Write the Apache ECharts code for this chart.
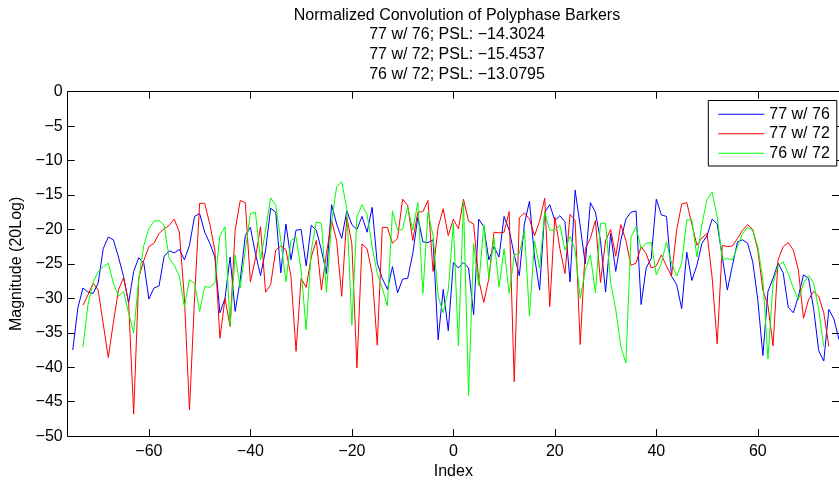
<!DOCTYPE html>
<html>
<head>
<meta charset="utf-8">
<script src="https://cdn.jsdelivr.net/npm/echarts@6/dist/echarts.min.js"></script>
<style>
html,body{margin:0;padding:0;background:#fff;}
#c{width:839px;height:485px;}
</style>
</head>
<body>
<div id="c"></div>
<script>
// ---- data ----
const titleLines = [
  'Normalized Convolution of Polyphase Barkers',
  '77 w/ 76; PSL: \u221214.3024',
  '77 w/ 72; PSL: \u221215.4537',
  '76 w/ 72; PSL: \u221213.0795'
];
const seriesNames = ['77 w/ 76', '77 w/ 72', '76 w/ 72'];
const xTickValues = [-60, -40, -20, 0, 20, 40, 60];

// 77 w/ 76 : indices -75 .. 76
const start7776 = -75;
const vals7776 = [
  -37.5,-31.4,-28.5,-29.1,-29.3,-27.8,-22.8,-21.1,-21.5,-24.0,
  -26.8,-30.7,-26.1,-24.1,-24.9,-30.1,-28.5,-28.2,-23.9,-23.1,
  -23.4,-22.9,-24.4,-22.3,-18.1,-17.7,-20.4,-22.0,-24.0,-32.1,
  -30.0,-24.0,-31.9,-27.3,-20.9,-19.7,-23.5,-26.7,-23.0,-16.9,
  -17.5,-26.3,-19.2,-24.4,-20.1,-20.0,-25.3,-19.4,-20.1,-23.0,
  -26.4,-16.4,-19.2,-21.3,-17.3,-19.3,-20.0,-18.1,-20.4,-16.8,
  -24.9,-27.1,-28.7,-25.4,-29.2,-27.2,-27.1,-23.5,-18.2,-21.8,
  -21.9,-21.5,-36.0,-28.7,-34.7,-24.8,-25.6,-24.8,-25.6,-32.4,
  -18.5,-19.6,-24.4,-22.5,-24.0,-18.1,-20.1,-23.7,-26.7,-19.2,
  -15.9,-24.0,-28.8,-17.5,-16.4,-18.7,-18.0,-18.9,-27.6,-14.3,
  -19.5,-25.0,-16.1,-17.5,-21.6,-29.1,-20.6,-26.1,-21.6,-18.5,
  -17.5,-17.3,-30.9,-25.6,-24.2,-15.6,-17.9,-18.1,-26.8,-28.0,
  -31.5,-23.3,-27.4,-25.2,-22.0,-20.9,-18.5,-19.2,-24.0,-28.8,
  -25.2,-21.8,-21.5,-22.0,-24.7,-30.2,-38.3,-29.0,-27.1,-24.9,
  -26.3,-31.3,-32.1,-29.7,-26.6,-27.1,-31.5,-37.6,-39.1,-31.6,
  -33.0,-36.0
];

// 77 w/ 72 : indices -73 .. 74
const start7772 = -73;
const vals7772 = [
  -31.0,-29.5,-27.8,-28.8,-33.7,-38.6,-33.5,-28.8,-27.0,-30.5,
  -46.8,-27.0,-24.5,-22.5,-22.0,-20.6,-19.9,-19.4,-18.5,-20.4,
  -30.0,-46.2,-30.0,-16.2,-16.2,-19.2,-23.0,-35.8,-30.0,-34.1,
  -20.1,-15.8,-16.1,-27.6,-24.2,-19.6,-29.1,-28.0,-23.0,-22.4,
  -22.9,-26.8,-37.7,-27.1,-28.4,-24.0,-21.6,-28.8,-23.5,-18.7,
  -21.6,-29.7,-18.2,-22.1,-40.1,-22.1,-22.8,-26.4,-36.8,-19.7,
  -19.7,-22.0,-21.3,-15.6,-16.5,-21.6,-17.5,-17.4,-15.8,-26.1,
  -19.7,-17.0,-20.9,-18.5,-19.9,-15.6,-18.8,-19.2,-27.3,-30.6,
  -27.1,-20.4,-20.5,-20.4,-17.4,-42.1,-18.3,-17.6,-18.5,-20.9,
  -18.8,-15.45,-31.2,-18.2,-22.8,-26.4,-17.8,-18.7,-36.7,-22.8,
  -21.3,-18.7,-27.7,-21.6,-20.0,-23.9,-19.3,-21.6,-25.2,-24.9,
  -22.5,-23.5,-25.6,-25.3,-23.7,-25.3,-26.8,-20.1,-16.3,-16.1,
  -19.2,-22.3,-21.2,-20.6,-27.0,-36.6,-22.3,-22.5,-22.4,-21.3,
  -20.1,-19.3,-20.0,-23.0,-28.8,-31.0,-36.9,-24.4,-22.5,-21.9,
  -23.0,-25.9,-32.9,-30.2,-29.0,-29.7,-32.1,-37.0
];

// 76 w/ 72 : indices -73 .. 73
const start7672 = -73;
const vals7672 = [
  -37.1,-30.9,-27.7,-26.1,-25.4,-24.9,-27.8,-29.7,-29.0,-32.1,
  -35.0,-27.3,-22.3,-19.9,-18.8,-18.7,-19.4,-24.2,-25.2,-26.8,
  -31.2,-27.3,-27.8,-31.9,-28.3,-28.4,-27.8,-20.9,-19.6,-34.0,
  -23.7,-28.5,-23.0,-17.7,-17.5,-24.4,-20.1,-15.4,-16.5,-21.6,
  -27.6,-21.6,-21.1,-25.9,-34.6,-23.0,-18.9,-19.1,-29.1,-18.9,
  -13.8,-13.08,-17.0,-33.9,-18.2,-16.4,-17.8,-22.5,-26.4,-28.5,
  -31.1,-17.3,-20.1,-20.0,-16.7,-20.1,-16.1,-29.3,-17.5,-20.9,
  -29.7,-32.1,-28.8,-19.1,-36.9,-15.9,-44.1,-22.1,-28.2,-19.3,
  -27.1,-21.2,-28.4,-22.8,-29.3,-23.7,-23.5,-20.1,-32.6,-21.7,
  -25.6,-17.5,-20.1,-20.1,-19.4,-23.0,-21.0,-23.0,-30.0,-25.9,
  -23.7,-29.2,-19.1,-19.1,-27.7,-31.6,-37.0,-39.4,-21.1,-19.6,
  -22.8,-22.0,-21.9,-26.6,-24.9,-21.8,-24.9,-26.8,-24.9,-18.6,
  -18.6,-24.0,-19.2,-15.6,-14.6,-18.2,-24.4,-24.2,-24.4,-22.5,
  -20.6,-19.7,-20.1,-22.5,-27.3,-38.8,-27.8,-25.3,-24.7,-26.4,
  -28.5,-30.2,-27.8,-26.7,-27.8,-31.6,-37.0
];

// ---- build chart ----
function pairs(start, vals) { return vals.map((v, i) => [start + i, v]); }
const FONT = 'Liberation Sans';
const FS = 16;
const minus = v => String(v).replace('-', '\u2212');

const chart = echarts.init(document.getElementById('c'), null, {renderer: 'canvas'});
const axisBase = {
  axisLine: {show: true, onZero: false, lineStyle: {color: '#000', width: 1}},
  axisTick: {show: true, inside: true, length: 7, lineStyle: {color: '#000', width: 1}},
  splitLine: {show: false}
};
chart.setOption({
  animation: false,
  backgroundColor: '#fff',
  title: {
    text: titleLines.join('\n'),
    left: 457, top: 5.5, padding: 0, textAlign: 'center',
    textStyle: {fontFamily: FONT, fontSize: FS, fontWeight: 'normal', color: '#000', lineHeight: 19.6}
  },
  legend: {
    orient: 'vertical', left: 708.3, top: 100.5,
    padding: [4, 7, 3, 10], itemGap: 0, itemWidth: 46, itemHeight: 1.2, icon: 'rect',
    borderColor: '#000', borderWidth: 1, backgroundColor: '#fff',
    textStyle: {fontFamily: FONT, fontSize: FS, color: '#000', lineHeight: 19.5},
    data: seriesNames
  },
  grid: {left: 67.7, top: 91.7, width: 779, height: 347.7, containLabel: false},
  xAxis: [
    Object.assign({}, axisBase, {
      type: 'value', min: -76, max: 76, position: 'bottom',
      name: 'Index', nameLocation: 'middle', nameGap: 27,
      nameTextStyle: {fontFamily: FONT, fontSize: FS, color: '#000'},
      axisTick: Object.assign({}, axisBase.axisTick, {customValues: xTickValues}),
      axisLabel: {customValues: xTickValues, margin: 7, fontFamily: FONT, fontSize: FS, color: '#000', formatter: minus}
    }),
    Object.assign({}, axisBase, {
      type: 'value', min: -76, max: 76, position: 'top',
      axisTick: Object.assign({}, axisBase.axisTick, {customValues: xTickValues}),
      axisLabel: {show: false}
    })
  ],
  yAxis: [
    Object.assign({}, axisBase, {
      type: 'value', min: -50, max: 0, interval: 5, position: 'left',
      name: 'Magnitude (20Log)', nameLocation: 'middle', nameGap: 35,
      nameTextStyle: {fontFamily: FONT, fontSize: FS, color: '#000'},
      axisLabel: {margin: 5, fontFamily: FONT, fontSize: FS, color: '#000', formatter: minus}
    }),
    Object.assign({}, axisBase, {
      type: 'value', min: -50, max: 0, interval: 5, position: 'right',
      axisLabel: {show: false}
    })
  ],
  series: [
    {name: seriesNames[0], type: 'line', data: pairs(start7776, vals7776), symbol: 'none', color: '#0000ff', lineStyle: {width: 1, color: '#0000ff'}},
    {name: seriesNames[1], type: 'line', data: pairs(start7772, vals7772), symbol: 'none', color: '#ff0000', lineStyle: {width: 1, color: '#ff0000'}},
    {name: seriesNames[2], type: 'line', data: pairs(start7672, vals7672), symbol: 'none', color: '#00ff00', lineStyle: {width: 1, color: '#00ff00'}}
  ]
});
</script>
</body>
</html>
